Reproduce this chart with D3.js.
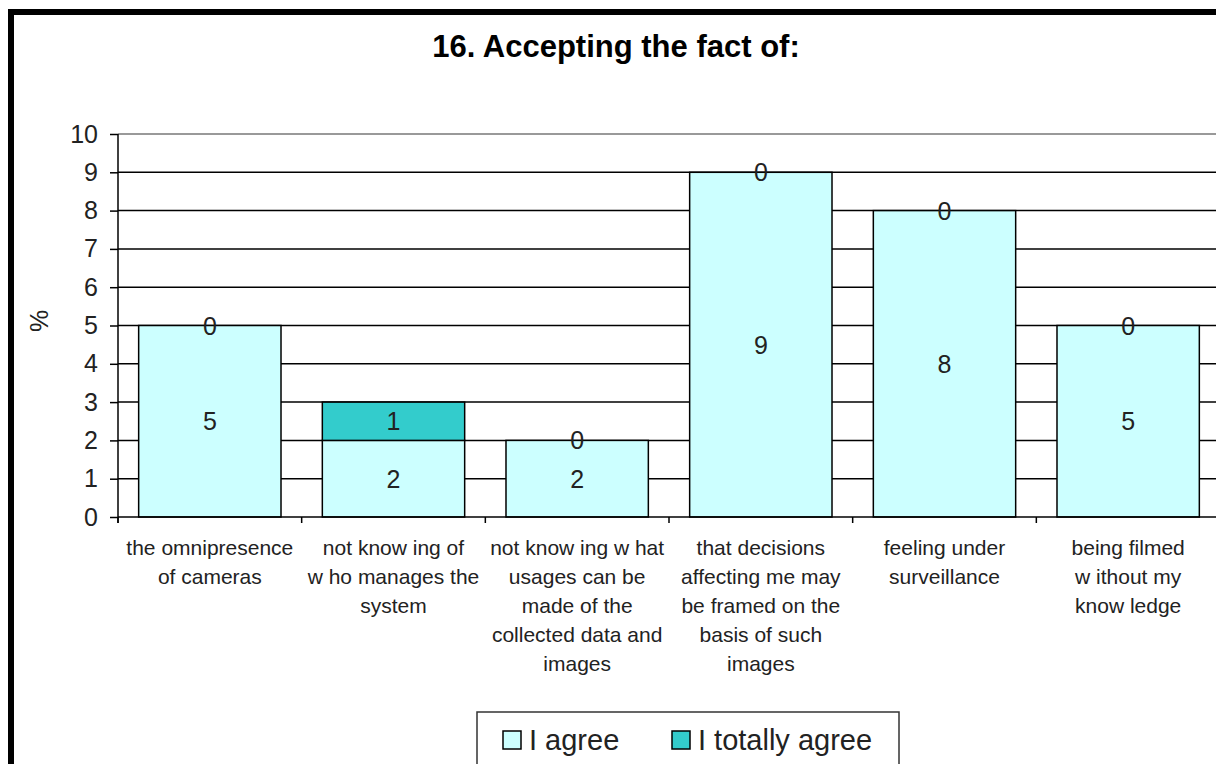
<!DOCTYPE html>
<html><head><meta charset="utf-8">
<script src="https://cdn.jsdelivr.net/npm/d3@7"></script>
<style>body{margin:0;background:#fff}svg{display:block}text{font-family:"Liberation Sans",Arial,sans-serif}</style>
</head><body>
<svg id="c" width="1216" height="764"></svg>
<script>
const title = "16. Accepting the fact of:";
const categories = [
  ["the omnipresence", "of cameras"],
  ["not know ing of", "w ho manages the", "system"],
  ["not know ing w hat", "usages can be", "made of the", "collected data and", "images"],
  ["that decisions", "affecting me may", "be framed on the", "basis of such", "images"],
  ["feeling under", "surveillance"],
  ["being filmed", "w ithout my", "know ledge"]
];
const seriesNames = ["I agree", "I totally agree"];
const agree = [5, 2, 2, 9, 8, 5];
const totallyAgree = [0, 1, 0, 0, 0, 0];
const yTicks = [0,1,2,3,4,5,6,7,8,9,10];
const colors = ["#CCFFFF", "#33CCCC"];

const svg = d3.select("#c");
// outer frame (left & top)
svg.append("rect").attr("x",8).attr("y",9).attr("width",6).attr("height",760).attr("fill","#000");
svg.append("rect").attr("x",8).attr("y",9).attr("width",1210).attr("height",6).attr("fill","#000");

svg.append("text").attr("x",616).attr("y",57).attr("text-anchor","middle")
  .attr("font-size",31).attr("font-weight","bold").attr("fill","#000").text(title);

const x = d3.scaleBand().domain(d3.range(categories.length)).range([118, 1220]).paddingInner(0.225).paddingOuter(0.1125);
const y = d3.scaleLinear().domain([0, 10]).range([517, 134]);

// gridlines
svg.append("g").selectAll("line").data(yTicks.filter(t=>t>0)).join("line")
  .attr("x1",118).attr("x2",1216).attr("y1",d=>y(d)).attr("y2",d=>y(d))
  .attr("stroke",d=>d===10?"#999":"#000").attr("stroke-width",d=>d===10?2:1.5);

// y axis
const ya = svg.append("g").attr("transform","translate(118,0)")
  .call(d3.axisLeft(y).tickValues(yTicks).tickSize(8).tickPadding(12));
ya.select(".domain").attr("stroke","#000").attr("stroke-width",1.5).attr("d","M0,"+y(10)+"V"+(y(0)+6));
ya.selectAll(".tick line").attr("stroke","#000").attr("stroke-width",1.5);
ya.selectAll(".tick text").attr("font-size",25).attr("fill","#222").attr("font-family","Liberation Sans, Arial, sans-serif");

svg.append("text").attr("transform","translate(48,321) rotate(-90)").attr("text-anchor","middle")
  .attr("font-size",25).attr("fill","#222").text("%");

// stacked bars
const rows = categories.map((c,i)=>({i, a:agree[i], t:totallyAgree[i]}));
const stack = d3.stack().keys(["a","t"])(rows);
stack.forEach((layer, k)=>{
  svg.append("g").selectAll("rect").data(layer).join("rect")
    .attr("x",(d,i)=>x(i)).attr("width",x.bandwidth())
    .attr("y",d=>y(d[1])).attr("height",d=>y(d[0])-y(d[1]))
    .attr("fill",colors[k]).attr("stroke","#000").attr("stroke-width",1.5);
});
// labels
stack.forEach((layer, k)=>{
  svg.append("g").selectAll("text").data(layer).join("text")
    .attr("x",(d,i)=>x(i)+x.bandwidth()/2)
    .attr("y",d=>y((d[0]+d[1])/2)+9)
    .attr("text-anchor","middle").attr("font-size",25).attr("fill","#222")
    .text(d=>d[1]-d[0]);
});

// x axis
svg.append("line").attr("x1",118).attr("x2",1216).attr("y1",y(0)).attr("y2",y(0)).attr("stroke","#000").attr("stroke-width",1.5);
const step = x.step();
svg.append("g").selectAll("line").data(d3.range(categories.length+1)).join("line")
  .attr("x1",d=>118+d*step).attr("x2",d=>118+d*step).attr("y1",y(0)).attr("y2",y(0)+6)
  .attr("stroke","#000").attr("stroke-width",1.5);

const cl = svg.append("g").selectAll("text").data(categories).join("text")
  .attr("x",(d,i)=>x(i)+x.bandwidth()/2).attr("y",555)
  .attr("text-anchor","middle").attr("font-size",21).attr("fill","#222");
cl.selectAll("tspan").data(d=>d).join("tspan")
  .attr("x",function(){return this.parentNode.getAttribute("x");})
  .attr("dy",(d,j)=>j===0?0:29).text(d=>d);

// legend
const lg = svg.append("g");
lg.append("rect").attr("x",477).attr("y",712).attr("width",422).attr("height",70).attr("fill","#fff").attr("stroke","#333").attr("stroke-width",1.5);
const lx = [503, 672];
seriesNames.forEach((n,k)=>{
  lg.append("rect").attr("x",lx[k]).attr("y",731).attr("width",18).attr("height",18).attr("fill",colors[k]).attr("stroke","#000").attr("stroke-width",1.5);
  lg.append("text").attr("x",lx[k]+26).attr("y",750).attr("font-size",29).attr("fill","#222").text(n);
});
</script>
</body></html>
